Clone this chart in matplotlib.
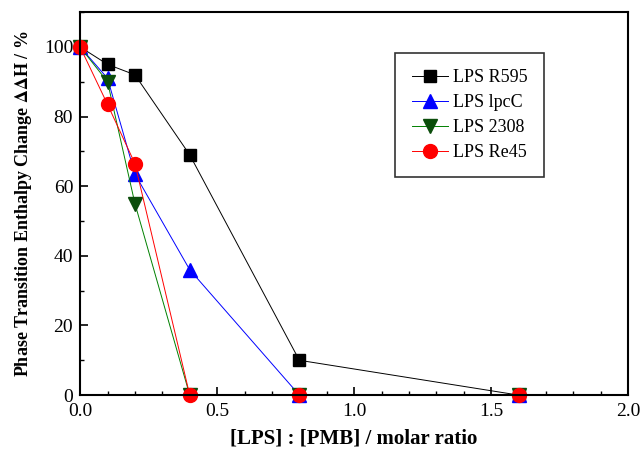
import numpy as np
import matplotlib
matplotlib.use("Agg")
import matplotlib.pyplot as plt
from matplotlib.ticker import MultipleLocator

plt.rcParams['font.family'] = ['Liberation Serif', 'DejaVu Serif']
plt.rcParams['mathtext.fontset'] = 'stix'

# data
ratio = [0.0, 0.1, 0.2, 0.4, 0.8, 1.6]
r595 = [100, 95, 92, 69, 10, 0]
lpcc = [100, 91, 63.5, 36, 0, 0]
lps2308 = [100, 90, 55, 0, 0, 0]
re45 = [100, 83.5, 66.5, 0, 0, 0]

series = [
    ("LPS R595", r595, "black", "black", "s", 9),
    ("LPS lpcC", lpcc, "blue", "blue", "^", 10),
    ("LPS 2308", lps2308, "green", "#0b4d0b", "v", 10),
    ("LPS Re45", re45, "red", "red", "o", 10),
]

fig = plt.figure(figsize=(6.41, 4.5), dpi=100)
ax = fig.add_axes([0.125, 0.122, 0.855, 0.851])

for label, vals, lc, mc, mk, ms in series:
    ax.plot(ratio, vals, color=lc, lw=0.7, marker=mk, markersize=ms,
            markerfacecolor=mc, markeredgecolor=mc, label=label, clip_on=False)

ax.set_xlim(0, 2.0)
ax.set_ylim(0, 110)
ax.xaxis.set_major_locator(MultipleLocator(0.5))
ax.xaxis.set_minor_locator(MultipleLocator(0.1))
ax.set_yticks([0, 20, 40, 60, 80, 100])
ax.yaxis.set_minor_locator(MultipleLocator(10))
ax.tick_params(which='both', direction='in', labelsize=14)
ax.tick_params(which='major', length=6, width=1.2)
ax.tick_params(axis='x', which='major', pad=6)
ax.tick_params(axis='y', which='major', pad=5)
ax.tick_params(which='minor', length=3, width=1.0)
for sp in ax.spines.values():
    sp.set_linewidth(1.5)

ax.set_xlabel("[LPS] : [PMB] / molar ratio", fontsize=15, fontweight='bold', labelpad=6)
ax.set_ylabel("Phase Transition Enthalpy Change $\\mathbf{\\Delta\\Delta}$H / %", fontsize=13,
              fontweight='bold', labelpad=7)

leg = ax.legend(loc='upper right', bbox_to_anchor=(0.863, 0.918), fontsize=13,
                frameon=True, fancybox=False, edgecolor='black',
                borderpad=0.9, labelspacing=0.45, handlelength=2.0, handletextpad=0.3)
leg.get_frame().set_linewidth(1.2)

fig.savefig("out.png", dpi=100)
